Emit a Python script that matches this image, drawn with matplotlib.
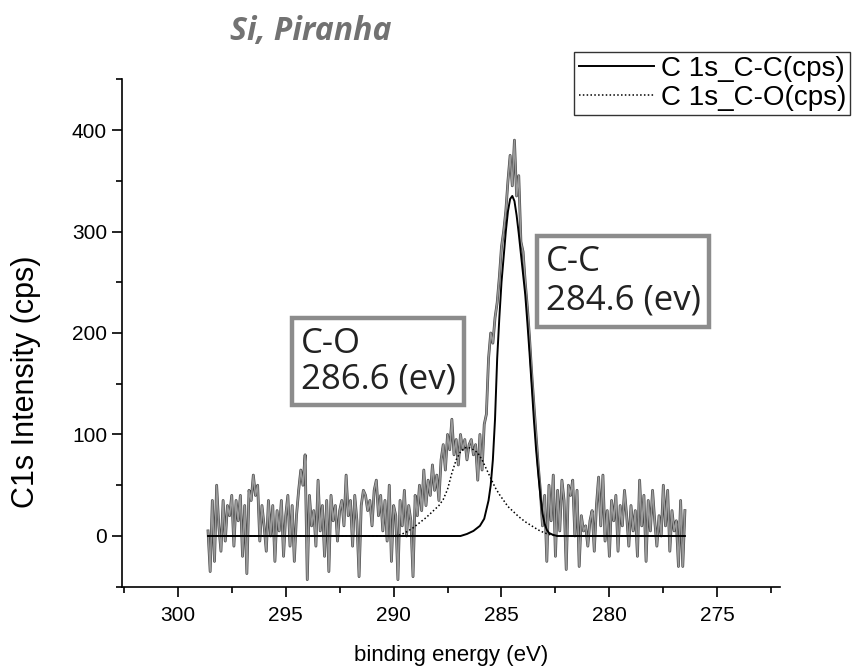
import numpy as np
import matplotlib
matplotlib.use("Agg")
import matplotlib.pyplot as plt
import matplotlib.patheffects as pe
from matplotlib.ticker import MultipleLocator

# raw C1s counts, 0.1 eV steps from 298.6 eV down to 276.5 eV
e_start, e_stop, n_pts = 298.6, 276.5, 222
raw_cps = [
    # 298.6 .. 296.0
    5, -35, 35, -25, 50, 10, -15, 35, -5, 30, 20, 40, -10, 35, 15, 40, -20, 30, -37, 45,
    35, 60, 40, 50, -5, 30, 10,
    # 295.9 .. 293.0
    -15, 35, 0, 30, -25, 25, 5, 35, -20, 20, 40, -10, 30, -25, 20, 45, 65, 50, 80, -43,
    40, 10, 25, -10, 55, 5, 30, -20, 35, -35,
    # 292.9 .. 290.0
    40, 15, 30, -5, 25, 35, 10, 60, 20, 35, -10, 40, 15, -40, 30, 45, 40, 25, 35, 10,
    45, 55, 20, 40, 5, 35, -5, 50, -25, 30,
    # 289.9 .. 287.5
    20, -43, 35, 10, 45, 0, 30, 15, -40, 40, 20, 50, 25, 65, 30, 55, 40, 70, 45, 60,
    35, 75, 90, 65, 100,
    # 287.4 .. 285.8 (C-O shoulder)
    85, 115, 80, 95, 70, 100, 85, 95, 75, 90, 95, 80, 90, 55, 100, 65, 110,
    # 285.7 .. 282.9 (C-C peak)
    120, 175, 200, 190, 215, 230, 255, 285, 300, 320, 350, 375, 345, 390, 335, 355, 290, 280,
    250, 225, 195, 160, 130, 100, 70, 45, 10, 40, -25,
    # 282.8 .. 276.5
    50, 15, 60, -20, 45, 5, 55, 35, -33, 50, 40, 55, 0, 45, -30, 20, 5, 10, -10, 15,
    25, -15, 30, 58, 10, 60, -5, 25, -20, 35, 15, 40, -15, 30, 10, 45, 20, -10, 30, 5,
    25, -20, 55, 10, 40, -25, 35, 5, 45, 15, -10, 20, 0, 50, 10, 45, -15, 25, 5, 15,
    -30, 35, -30, 25,
]
energy = np.linspace(e_start, e_stop, n_pts)

# fitted components
cc_energy = [298.6, 286.9, 286.6, 286.3, 286.0, 285.8, 285.6, 285.5, 285.4, 285.3, 285.2,
             285.1, 285.0, 284.9, 284.8, 284.7, 284.6, 284.5, 284.4, 284.3, 284.2, 284.1,
             284.0, 283.9, 283.8, 283.7, 283.6, 283.5, 283.4, 283.3, 283.2, 283.1, 283.0,
             282.9, 282.8, 282.6, 282.4, 276.5]
cc_fit = [0, 0, 2, 5, 10, 17, 35, 50, 75, 115, 175, 215, 250, 275, 300, 320, 332, 335, 330,
          316, 298, 278, 258, 238, 210, 180, 148, 115, 86, 62, 40, 22, 12, 6, 3, 1, 0, 0]

co_energy = [298.6, 290.0, 289.7, 289.4, 289.1, 288.8, 288.5, 288.2, 287.9, 287.7, 287.5,
             287.3, 287.1, 286.9, 286.7, 286.5, 286.3, 286.1, 285.9, 285.7, 285.5, 285.3,
             285.1, 284.9, 284.7, 284.5, 284.2, 283.9, 283.6, 283.3, 283.0, 282.7, 282.4, 276.5]
co_fit = [0, 0, 1, 4, 8, 13, 18, 24, 30, 36, 46, 62, 75, 83, 87, 87, 85, 82, 75, 66, 57, 48,
          41, 35, 29, 25, 19, 14, 10, 6, 3, 1, 0, 0]

fig = plt.figure(figsize=(8.57, 6.66), dpi=100)
ax = fig.add_axes([0.142, 0.119, 0.768, 0.762])

ax.plot(energy, raw_cps, color="#9a9a9a", lw=1.1,
        path_effects=[pe.Stroke(linewidth=2.0, foreground="#474747"), pe.Normal()])
ax.plot(cc_energy, cc_fit, color="black", lw=1.4, label="C 1s_C-C(cps)")
ax.plot(co_energy, co_fit, color="black", lw=1.1, ls=(0, (1, 1.5)), label="C 1s_C-O(cps)")

ax.set_xlim(302.6, 272.1)
ax.set_ylim(-50, 450)
ax.xaxis.set_major_locator(MultipleLocator(5))
ax.xaxis.set_minor_locator(MultipleLocator(2.5))
ax.yaxis.set_major_locator(MultipleLocator(100))
ax.yaxis.set_minor_locator(MultipleLocator(50))
ax.tick_params(which="major", direction="out", length=7, width=1.2, labelsize=15)
ax.tick_params(axis="x", which="major", pad=7)
ax.tick_params(which="minor", direction="out", length=4, width=1.2)
for s in ["top", "right"]:
    ax.spines[s].set_visible(False)
for s in ["left", "bottom"]:
    ax.spines[s].set_linewidth(1.2)
for lab in ax.get_xticklabels() + ax.get_yticklabels():
    lab.set_family("Liberation Sans")

ax.set_xlabel("binding energy (eV)", fontsize=16, family="Liberation Sans", labelpad=14)
ax.set_ylabel("C1s Intensity (cps)", fontsize=22, family="Liberation Sans")
ax.yaxis.set_label_coords(-0.122, 0.404)

box = dict(boxstyle="square,pad=0.25", fc="white", ec="#8c8c8c", lw=3.2)
ax.text(0.272, 0.444, "C-O\n286.6 (ev)", transform=ax.transAxes, ha="left", va="center",
        fontsize=25, family="Open Sans", color="#222222", linespacing=1.05, bbox=box)
ax.text(0.644, 0.602, "C-C\n284.6 (ev)", transform=ax.transAxes, ha="left", va="center",
        fontsize=25, family="Open Sans", color="#222222", linespacing=1.2, bbox=box)

fig.text(0.268, 0.952, "Si, Piranha", fontsize=23, style="italic", weight="bold",
         color="#727272", family="Open Sans", va="center")

leg = ax.legend(loc="upper right", bbox_to_anchor=(0.992, 0.922), bbox_transform=fig.transFigure,
                prop={"family": "Liberation Sans", "size": 20}, frameon=True, fancybox=False,
                handlelength=2.7, borderpad=0.15, labelspacing=0.1, handletextpad=0.25,
                borderaxespad=0)
leg.get_frame().set_edgecolor("black")
leg.get_frame().set_linewidth(1.0)

fig.savefig("out.png", dpi=100)
